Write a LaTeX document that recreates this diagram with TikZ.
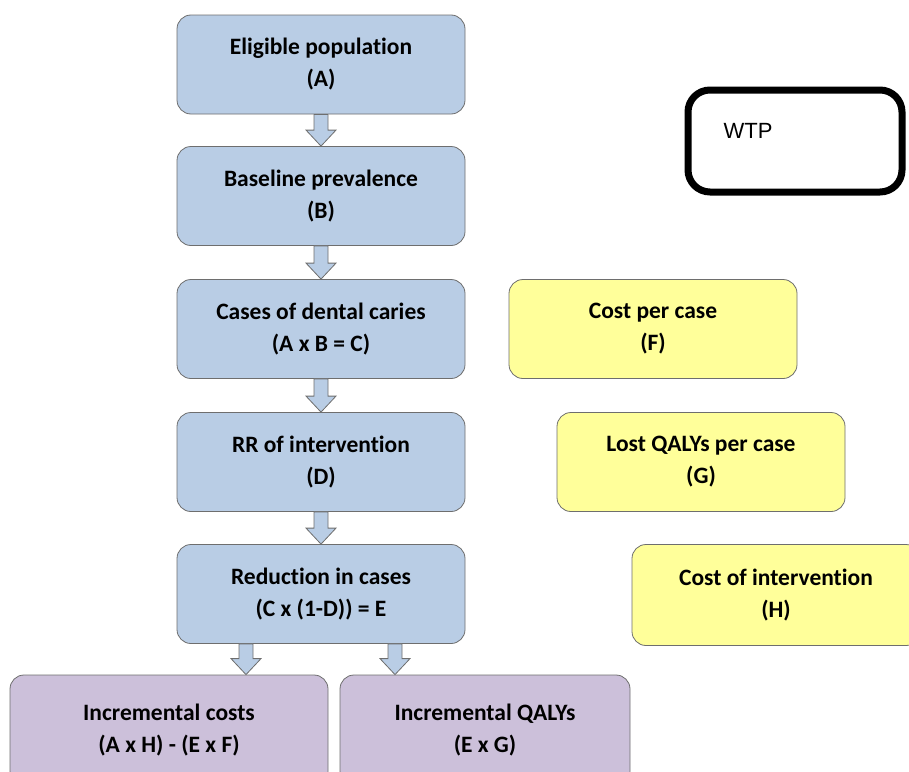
\documentclass[tikz,border=0pt]{standalone}
\usepackage{fontspec}
\setmainfont{Carlito}[Ligatures=NoCommon]
\newfontfamily\wtpfont{Liberation Sans}
\usetikzlibrary{calc}
\definecolor{bluefill}{HTML}{B9CDE5}
\definecolor{purplefill}{HTML}{CCC0DA}
\definecolor{yellowfill}{HTML}{FFFF9A}
\definecolor{edgegray}{HTML}{6E6E6E}
\tikzset{
  box/.style={draw=edgegray, line width=0.8pt, rounded corners=14pt, minimum width=288pt,
    minimum height=99pt, align=center, font=\fontsize{23.5}{32}\selectfont\bfseries, inner sep=0pt},
  bluebox/.style={box, fill=bluefill},
  purplebox/.style={box, fill=purplefill, minimum width=318pt, minimum height=110pt},
  yellowbox/.style={box, fill=yellowfill},
  barrow/.style={draw=edgegray, fill=bluefill, line width=0.8pt, line join=miter,
    to path={($(\tikztostart)+(-7,0)$) -- ($(\tikztotarget)+(-7,-16)$) -- ($(\tikztotarget)+(-15,-16)$)
      -- (\tikztotarget) -- ($(\tikztotarget)+(15,-16)$) -- ($(\tikztotarget)+(7,-16)$)
      -- ($(\tikztostart)+(7,0)$) -- cycle}}
}
\begin{document}
\begin{tikzpicture}[x=1pt,y=-1pt]
\useasboundingbox (0,0) rectangle (909,771);
\node[bluebox] (A) at (321,64.5) {Eligible population\\(A)};
\node[bluebox] (B) at (321,196) {Baseline prevalence\\(B)};
\node[bluebox] (C) at (321,329) {Cases of dental caries\\(A x B = C)};
\node[bluebox] (D) at (321,462) {RR of intervention\\(D)};
\node[bluebox] (E) at (321,594) {Reduction in cases\\(C x (1-D)) = E};
\node[purplebox] (IC) at (169,730) {Incremental costs\\(A x H) - (E x F)};
\node[purplebox, minimum width=290pt] (IQ) at (485,730) {Incremental QALYs\\(E x G)};
\node[yellowbox] (F) at (653,329) {Cost per case\\(F)};
\node[yellowbox] (G) at (701,462) {Lost QALYs per case\\(G)};
\node[yellowbox, minimum height=101pt] (H) at (776,595) {Cost of intervention\\(H)};
\node[draw=black, line width=7pt, rounded corners=22pt, minimum width=214pt, minimum height=102pt] (W) at (795,141) {};
\node[anchor=west, font=\wtpfont\fontsize{22}{26}\selectfont] (WT) at (720,131) {WTP};
\draw[barrow] (A.south) to (B.north);
\draw[barrow] (B.south) to (C.north);
\draw[barrow] (C.south) to (D.north);
\draw[barrow] (D.south) to (E.north);
\coordinate (e1) at ($(E.south)+(-75,0)$);
\coordinate (e2) at ($(E.south)+(74,0)$);
\draw[barrow] (e1) to (e1 |- IC.north);
\draw[barrow] (e2) to (e2 |- IQ.north);
\end{tikzpicture}
\end{document}
